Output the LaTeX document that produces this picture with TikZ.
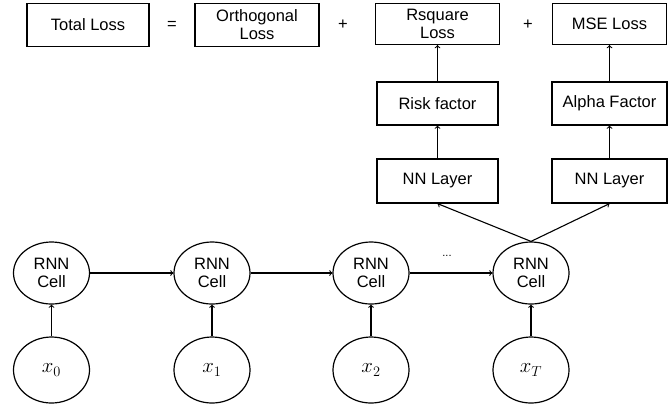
\documentclass[tikz,border=0pt]{standalone}
\usepackage{fontspec}
\setmainfont{Liberation Sans}
\usetikzlibrary{shapes.geometric}
\begin{document}
\begin{tikzpicture}[x=1pt,y=-1pt,
  every node/.style={font=\fontsize{16.5}{18}\selectfont, inner sep=0pt},
  box/.style={draw, line width=1.2pt, minimum height=43pt, align=center},
  cell/.style={draw, ellipse, line width=1.2pt, minimum width=76pt, minimum height=62pt, align=center},
  inp/.style={draw, ellipse, line width=1.2pt, minimum width=76pt, minimum height=66pt, font=\fontsize{20}{22}\selectfont},
  conn/.style={->, line width=1.1pt}]
\useasboundingbox (0,0) rectangle (668,405);
% top row
\node[box, minimum width=122pt] (total) at (88,25) {Total Loss};
\node (eq) at (172,25) {=};
\node[box, minimum width=124pt] (orth) at (257,25) {Orthogonal\\Loss};
\node (p1) at (343,25) {+};
\node[box, minimum width=124pt, minimum height=41pt] (rsq) at (437.5,24) {Rsquare\\Loss};
\node (p2) at (528,25) {+};
\node[box, minimum width=114pt, minimum height=41pt] (mse) at (609.5,24) {MSE Loss};
% middle
\node[box, minimum width=121pt] (risk) at (437.5,103.5) {Risk factor};
\node[box, minimum width=115pt] (alpha) at (609.5,103.5) {Alpha Factor};
\node[box, minimum width=121pt, minimum height=44pt] (nn1) at (437.5,181) {NN Layer};
\node[box, minimum width=115pt, minimum height=44pt] (nn2) at (609.5,181) {NN Layer};
% RNN cells
\node[cell] (c0) at (51.5,273) {RNN\\Cell};
\node[cell] (c1) at (212,273) {RNN\\Cell};
\node[cell] (c2) at (371,273) {RNN\\Cell};
\node[cell] (c3) at (531,273) {RNN\\Cell};
\node (dots) at (447,256) {\fontsize{11}{12}\selectfont ...};
% inputs
\node[inp] (x0) at (51.5,370) {$x_0$};
\node[inp] (x1) at (212,370) {$x_1$};
\node[inp] (x2) at (371,370) {$x_2$};
\node[inp] (x3) at (531,370) {$x_T$};
% connectors
\draw[conn] (x0) -- (c0);
\draw[conn] (x1) -- (c1);
\draw[conn] (x2) -- (c2);
\draw[conn] (x3) -- (c3);
\draw[conn] (c0) -- (c1);
\draw[conn] (c1) -- (c2);
\draw[conn] (c2) -- (c3);
\draw[conn] (c3.north) -- (nn1.south);
\draw[conn] (c3.north) -- (nn2.south);
\draw[conn] (nn1) -- (risk);
\draw[conn] (nn2) -- (alpha);
\draw[conn] (risk) -- (rsq);
\draw[conn] (alpha) -- (mse);
\end{tikzpicture}
\end{document}
